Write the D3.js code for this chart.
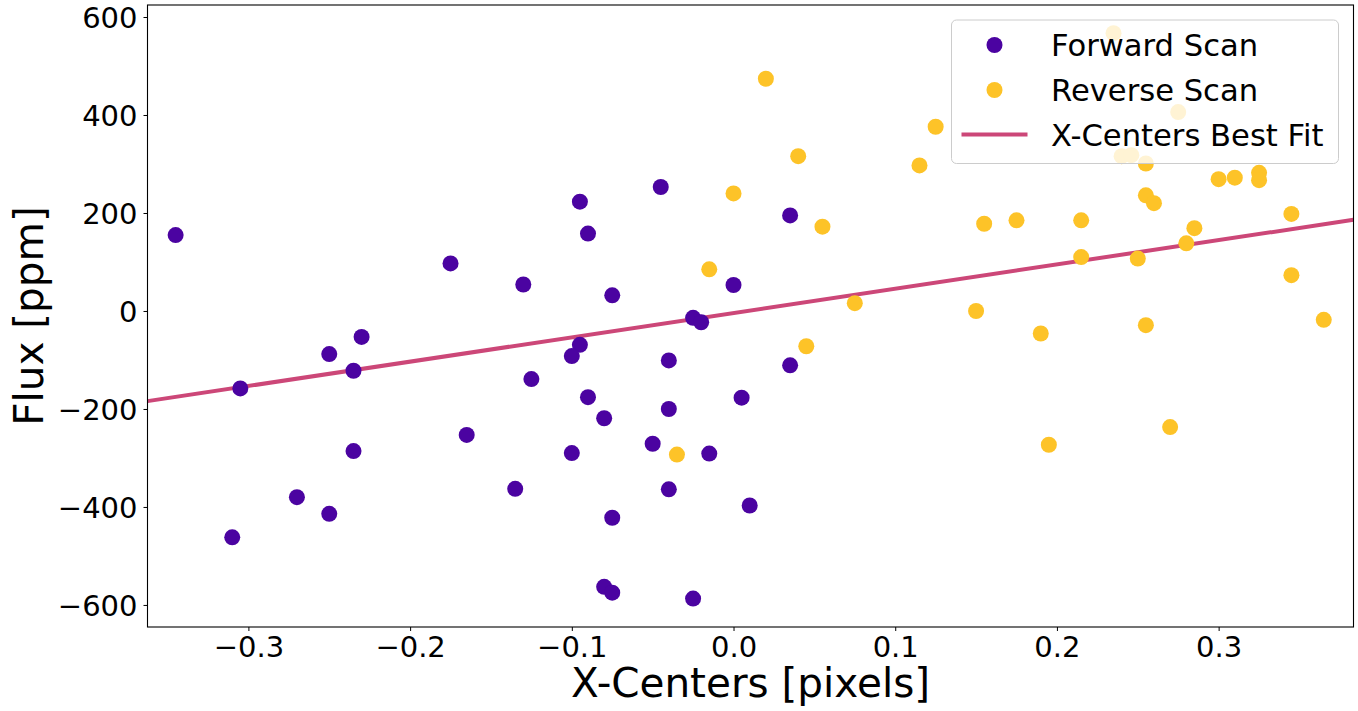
<!DOCTYPE html>
<html>
<head>
<meta charset="utf-8">
<script src="https://cdn.jsdelivr.net/npm/d3@7"></script>
<style>
  html, body { margin: 0; padding: 0; background: #fff; }
  svg { display: block; }
  text { font-family: "DejaVu Sans", sans-serif; fill: #000; }
</style>
</head>
<body>
<svg id="chart" width="1358" height="711"></svg>
<script>
// ---- data ----
const forwardX = [-0.345, -0.175, -0.130, -0.095, -0.090, -0.045, 0.035, 0.000, -0.075, -0.025,
  -0.020, -0.040, 0.035, -0.090, -0.080, -0.040, 0.005, -0.050, -0.015, -0.040,
  0.010, -0.075, -0.080, -0.075, -0.025, -0.305, -0.250, -0.230, -0.235, -0.095,
  -0.100, -0.125, -0.165, -0.235, -0.100, -0.135, -0.270, -0.250, -0.310];
const forwardY = [155, 97, 54, 223, 158, 253, 195, 53, 32, -14,
  -23, -101, -111, -176, -219, -200, -177, -271, -291, -364,
  -397, -422, -563, -575, -587, -158, -88, -53, -122, -69,
  -92, -139, -253, -286, -290, -363, -380, -414, -462];

const reverseX = [0.020, 0.040, 0.000, 0.055, 0.125, 0.115, -0.015, 0.075, 0.150, 0.235,
  0.275, 0.240, 0.246, 0.255, 0.300, 0.310, 0.325, 0.325, 0.255, 0.260,
  0.345, 0.155, 0.175, 0.215, 0.285, 0.280, 0.215, 0.250, 0.345, 0.190,
  0.255, 0.365, 0.270, 0.195, 0.045, -0.035];
const reverseY = [474, 316, 240, 172, 376, 297, 85, 16, 0, 567,
  406, 316, 318, 301, 269, 272, 282, 267, 236, 220,
  198, 178, 185, 185, 169, 138, 110, 107, 73, -46,
  -29, -18, -237, -273, -72, -293];

// best-fit line end points (at the axis edges)
const fitX = [-0.3624, 0.3834];
const fitY = [-184, 186];

const xTicks = [-0.3, -0.2, -0.1, 0.0, 0.1, 0.2, 0.3];
const yTicks = [-600, -400, -200, 0, 200, 400, 600];
const xDomain = [-0.3624, 0.3834];
const yDomain = [-645, 624.5];

const legendLabels = ["Forward Scan", "Reverse Scan", "X-Centers Best Fit"];
const colors = { forward: "#4b03a1", reverse: "#fdc328", fit: "#cc4778" };

// ---- layout ----
const svg = d3.select("#chart");
const mLeft = 147.5, mTop = 5, mRight = 1353.5, mBottom = 627;

const x = d3.scaleLinear().domain(xDomain).range([mLeft, mRight]);
const y = d3.scaleLinear().domain(yDomain).range([mBottom, mTop]);

// fit line
svg.append("path")
  .datum(fitX.map((d, i) => [d, fitY[i]]))
  .attr("fill", "none")
  .attr("stroke", colors.fit)
  .attr("stroke-width", 4)
  .attr("d", d3.line().x(d => x(d[0])).y(d => y(d[1])));

// clip for points
svg.append("clipPath").attr("id", "clip")
  .append("rect").attr("x", mLeft).attr("y", mTop).attr("width", mRight - mLeft).attr("height", mBottom - mTop);

const pts = svg.append("g").attr("clip-path", "url(#clip)");
pts.selectAll("circle.fwd")
  .data(forwardX.map((d, i) => [d, forwardY[i]]))
  .join("circle").attr("class", "fwd")
  .attr("cx", d => x(d[0])).attr("cy", d => y(d[1])).attr("r", 8)
  .attr("fill", colors.forward);
pts.selectAll("circle.rev")
  .data(reverseX.map((d, i) => [d, reverseY[i]]))
  .join("circle").attr("class", "rev")
  .attr("cx", d => x(d[0])).attr("cy", d => y(d[1])).attr("r", 8)
  .attr("fill", colors.reverse);

// axes
const fmtX = d => (d < 0 ? "\u2212" : "") + Math.abs(d).toFixed(1);
const fmtY = d => (d < 0 ? "\u2212" : "") + Math.abs(d);

const xAxis = svg.append("g").attr("transform", `translate(0,${mBottom})`)
  .call(d3.axisBottom(x).tickValues(xTicks).tickFormat(fmtX).tickSize(4).tickPadding(6));
const yAxis = svg.append("g").attr("transform", `translate(${mLeft},0)`)
  .call(d3.axisLeft(y).tickValues(yTicks).tickFormat(fmtY).tickSize(4).tickPadding(6));

[xAxis, yAxis].forEach(a => {
  a.select(".domain").remove();
  a.selectAll("line").attr("stroke", "#000").attr("stroke-width", 1);
  a.selectAll("text").attr("font-size", 29).attr("font-family", "DejaVu Sans").attr("fill", "#000");
});
xAxis.selectAll("text").attr("dy", null).attr("y", 30);
yAxis.selectAll("text").attr("dy", "0.36em");

// frame
svg.append("rect")
  .attr("x", mLeft).attr("y", mTop).attr("width", mRight - mLeft).attr("height", mBottom - mTop)
  .attr("fill", "none").attr("stroke", "#000").attr("stroke-width", 1.1);

// axis labels
svg.append("text")
  .attr("x", (mLeft + mRight) / 2).attr("y", 697)
  .attr("text-anchor", "middle").attr("font-size", 40.5)
  .text("X-Centers [pixels]");
svg.append("text")
  .attr("transform", `translate(43,${(mTop + mBottom) / 2}) rotate(-90)`)
  .attr("text-anchor", "middle").attr("font-size", 40.5)
  .text("Flux [ppm]");

// legend
const lg = svg.append("g");
lg.append("rect")
  .attr("x", 951.5).attr("y", 20).attr("width", 387).attr("height", 143.5)
  .attr("rx", 5).attr("ry", 5)
  .attr("fill", "#fff").attr("fill-opacity", 0.8)
  .attr("stroke", "#cccccc").attr("stroke-width", 1);
const rowY = [45, 90, 134.5];
lg.append("circle").attr("cx", 994.5).attr("cy", rowY[0]).attr("r", 8).attr("fill", colors.forward);
lg.append("circle").attr("cx", 994.5).attr("cy", rowY[1]).attr("r", 8).attr("fill", colors.reverse);
lg.append("line").attr("x1", 961.5).attr("x2", 1027.5).attr("y1", rowY[2]).attr("y2", rowY[2])
  .attr("stroke", colors.fit).attr("stroke-width", 4);
lg.selectAll("text.lab").data(legendLabels).join("text").attr("class", "lab")
  .attr("x", 1051).attr("y", (d, i) => rowY[i] + 11)
  .attr("font-size", 30.6)
  .text(d => d);
</script>
</body>
</html>
